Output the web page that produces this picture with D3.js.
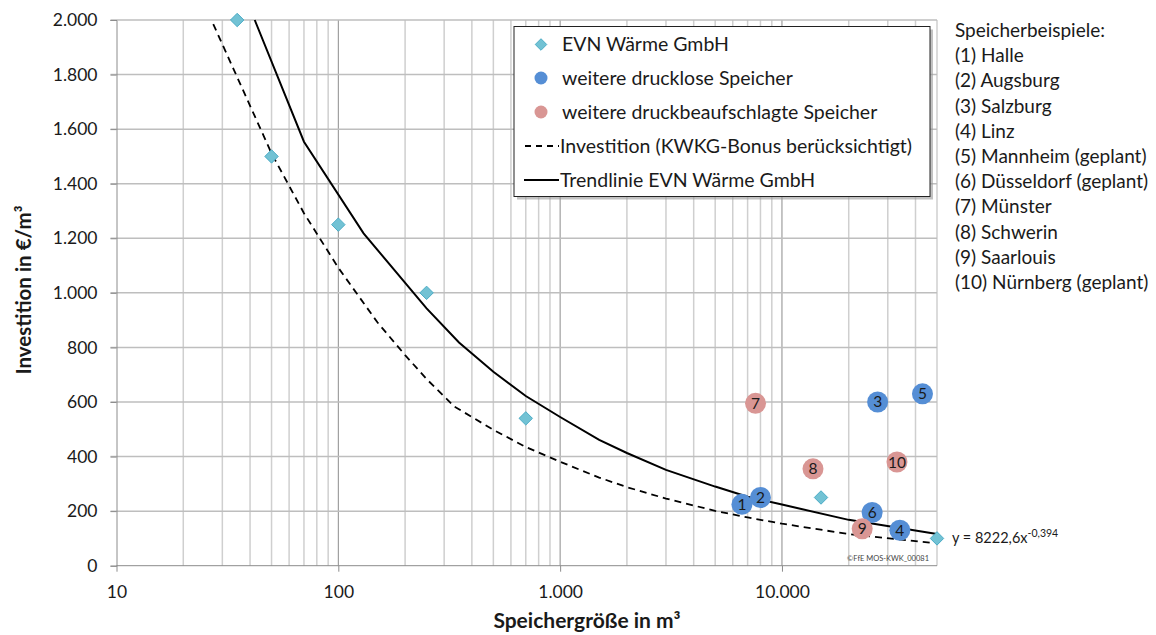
<!DOCTYPE html>
<html><head><meta charset="utf-8">
<script src="https://cdn.jsdelivr.net/npm/d3@7"></script>
<style>
html,body{margin:0;padding:0;background:#fff;}
svg{display:block;font-family:Lato,"Open Sans",sans-serif;}
</style></head>
<body><svg id="chart" width="1156" height="635"></svg>
<script>
// ---------- data ----------
const evnX = [35, 50, 100, 250, 700, 15000, 50000];
const evnY = [2000, 1500, 1250, 1000, 540, 250, 100];

const druckloseIds = [1, 2, 3, 4, 5, 6];
const druckloseX = [6600, 8000, 27000, 34000, 43000, 25500];
const druckloseY = [225, 250, 600, 130, 630, 195];

const druckIds = [7, 8, 9, 10];
const druckX = [7600, 13800, 23000, 33000];
const druckY = [595, 355, 135, 380];

const trendX = [42, 70, 130, 250, 350, 500, 700, 1000, 1500, 2000, 3000, 5000, 7000, 10000, 20000, 50000];
const trendY = [2000, 1554, 1218, 943, 818, 711, 622, 545, 461, 413, 351, 290, 253, 224, 168, 116];

const bonusX = [27.3, 50, 70, 100, 150, 200, 250, 334, 500, 700, 1000, 1500, 2000, 3000, 5000, 7000, 10000, 20000, 48000];
const bonusY = [1985, 1511, 1292, 1092, 892, 772, 684, 583, 498, 435, 381, 323, 288, 246, 201, 177, 154, 116, 83];

const xTickValues = [10, 100, 1000, 10000];
const xTickLabels = ["10", "100", "1.000", "10.000"];
const yTickValues = [0, 200, 400, 600, 800, 1000, 1200, 1400, 1600, 1800, 2000];
const yTickLabels = ["0", "200", "400", "600", "800", "1.000", "1.200", "1.400", "1.600", "1.800", "2.000"];

const legendLabels = ["EVN Wärme GmbH", "weitere drucklose Speicher", "weitere druckbeaufschlagte Speicher",
  "Investition (KWKG-Bonus berücksichtigt)", "Trendlinie EVN Wärme GmbH"];
const exampleLines = ["Speicherbeispiele:", "(1) Halle", "(2) Augsburg", "(3) Salzburg", "(4) Linz",
  "(5) Mannheim (geplant)", "(6) Düsseldorf (geplant)", "(7) Münster", "(8) Schwerin", "(9) Saarlouis",
  "(10) Nürnberg (geplant)"];
const xTitle = "Speichergröße in m³";
const yTitle = "Investition in €/m³";
const equationBase = "y = 8222,6x";
const equationExp = "-0,394";
const copyright = "©FfE MOS-KWK_00081";

// ---------- colours ----------
const cDiamond = "#72C2D4", cDiamondStroke = "#4BACC6";
const cBlue = "#558ED5", cPink = "#D99694";

// ---------- layout ----------
const svg = d3.select("#chart");
const L = 116.5, R = 937, T = 20, B = 565.7;
const x = d3.scaleLog().domain([10, 50000]).range([L, R]);
const y = d3.scaleLinear().domain([0, 2000]).range([B, T]);

svg.append("defs").append("clipPath").attr("id", "plotclip")
  .append("rect").attr("x", L).attr("y", T - 1).attr("width", R - L + 1).attr("height", B - T + 2);

// minor vertical gridlines
const minor = [];
for (let e = 1; e <= 4; e++) for (let m = 2; m <= 9; m++) { const v = m * Math.pow(10, e); if (v <= 50000) minor.push(v); }
svg.append("g").selectAll("line").data(minor).join("line")
  .attr("x1", d => x(d)).attr("x2", d => x(d)).attr("y1", T).attr("y2", B)
  .attr("stroke", "#CFCFCF").attr("stroke-width", 1.5);
// major vertical gridlines
svg.append("g").selectAll("line").data(xTickValues.slice(1)).join("line")
  .attr("x1", d => x(d)).attr("x2", d => x(d)).attr("y1", T).attr("y2", B)
  .attr("stroke", "#8C8C8C").attr("stroke-width", 1);
// horizontal gridlines
svg.append("g").selectAll("line").data(yTickValues.slice(1)).join("line")
  .attr("x1", L - 6).attr("x2", R).attr("y1", d => y(d)).attr("y2", d => y(d))
  .attr("stroke", "#BEBEBE").attr("stroke-width", 1.5);

// axes
const yAxis = d3.axisLeft(y).tickValues(yTickValues).tickFormat((d, i) => yTickLabels[i]).tickSize(6).tickPadding(13);
const gy = svg.append("g").attr("transform", `translate(${L},0)`).call(yAxis);
gy.select(".domain").attr("stroke", "#8C8C8C");
gy.selectAll(".tick line").attr("stroke", "#8C8C8C");
gy.selectAll(".tick text").attr("font-size", 17.5).attr("font-family", "Lato").attr("fill", "#1a1a1a");

const xAxis = d3.axisBottom(x).tickValues(xTickValues).tickFormat((d, i) => xTickLabels[i]).tickSize(6).tickPadding(14).tickSizeOuter(0);
const gx = svg.append("g").attr("transform", `translate(0,${B})`).call(xAxis);
gx.select(".domain").attr("stroke", "#8C8C8C").attr("d", `M${L},0H${R}`);
gx.selectAll(".tick line").attr("stroke", "#8C8C8C");
gx.selectAll(".tick text").attr("font-size", 17.5).attr("font-family", "Lato").attr("fill", "#1a1a1a");

// axis titles
svg.append("text").attr("x", 587).attr("y", 628).attr("text-anchor", "middle")
  .attr("font-size", 21).attr("font-weight", "bold").attr("fill", "#1a1a1a").text(xTitle);
svg.append("text").attr("transform", `translate(31,290) rotate(-90)`).attr("text-anchor", "middle")
  .attr("font-size", 20.5).attr("font-weight", "bold").attr("fill", "#1a1a1a").text(yTitle);

const plot = svg.append("g").attr("clip-path", "url(#plotclip)");

// markers
const diamond = d3.symbol().type(d3.symbolDiamond2).size(115);
const evn = evnX.map((v, i) => ({ x: v, y: evnY[i] }));
const drucklose = druckloseX.map((v, i) => ({ x: v, y: druckloseY[i], id: druckloseIds[i] }));
const druck = druckX.map((v, i) => ({ x: v, y: druckY[i], id: druckIds[i] }));

svg.append("g").selectAll("circle").data(drucklose).join("circle")
  .attr("cx", d => x(d.x)).attr("cy", d => y(d.y)).attr("r", 10.5).attr("fill", cBlue);
svg.append("g").selectAll("circle").data(druck).join("circle")
  .attr("cx", d => x(d.x)).attr("cy", d => y(d.y)).attr("r", 10.5).attr("fill", cPink);
svg.append("g").selectAll("path").data(evn).join("path")
  .attr("transform", d => `translate(${x(d.x)},${y(d.y)})`).attr("d", diamond)
  .attr("fill", cDiamond).attr("stroke", cDiamondStroke).attr("stroke-width", 1);

// lines
const line = d3.line().x(d => x(d[0])).y(d => y(d[1]));
plot.append("path").datum(bonusX.map((v, i) => [v, bonusY[i]])).attr("d", line)
  .attr("fill", "none").attr("stroke", "#000").attr("stroke-width", 1.8).attr("stroke-dasharray", "7,5");
plot.append("path").datum(trendX.map((v, i) => [v, trendY[i]])).attr("d", line)
  .attr("fill", "none").attr("stroke", "#000").attr("stroke-width", 2);

// point labels
svg.append("g").selectAll("text").data(drucklose.concat(druck)).join("text")
  .attr("x", d => x(d.x)).attr("y", d => y(d.y) + 5.5).attr("text-anchor", "middle")
  .attr("font-size", 15.5).attr("fill", "#1a1a1a").text(d => d.id);

// equation
const eq = svg.append("text").attr("x", x(50000) + 15).attr("y", y(100) + 5).attr("font-size", 14.5).attr("fill", "#1a1a1a");
eq.append("tspan").text(equationBase);
eq.append("tspan").attr("dy", -6).attr("font-size", 10.5).text(equationExp);

// copyright
svg.append("text").attr("x", x(50000) - 8).attr("y", 561).attr("text-anchor", "end")
  .attr("font-size", 7.5).attr("fill", "#444").text(copyright);

// legend
const lg = svg.append("g");
const bx = 514, by = 26.5, bw = 416, bh = 170;
lg.append("rect").attr("x", bx + 3).attr("y", by + 3).attr("width", bw).attr("height", bh).attr("fill", "#9a9a9a").attr("opacity", 0.6);
lg.append("rect").attr("x", bx).attr("y", by).attr("width", bw).attr("height", bh).attr("fill", "#fff").attr("stroke", "#222").attr("stroke-width", 1);
const ly = [44.5, 78, 112, 146, 180];
lg.append("path").attr("transform", `translate(541,${ly[0]})`).attr("d", d3.symbol().type(d3.symbolDiamond2).size(85)).attr("fill", cDiamond).attr("stroke", cDiamondStroke);
lg.append("circle").attr("cx", 541).attr("cy", ly[1]).attr("r", 6.5).attr("fill", cBlue);
lg.append("circle").attr("cx", 541).attr("cy", ly[2]).attr("r", 6.5).attr("fill", cPink);
lg.append("line").attr("x1", 525).attr("x2", 559).attr("y1", ly[3]).attr("y2", ly[3]).attr("stroke", "#000").attr("stroke-width", 1.8).attr("stroke-dasharray", "6,5");
lg.append("line").attr("x1", 524).attr("x2", 559).attr("y1", ly[4]).attr("y2", ly[4]).attr("stroke", "#000").attr("stroke-width", 1.8);
lg.selectAll("text.lt").data(legendLabels).join("text").attr("class", "lt")
  .attr("x", (d, i) => i < 3 ? 562 : 560).attr("y", (d, i) => ly[i] + 6.5).attr("font-size", 19.5).attr("fill", "#1a1a1a").text(d => d);

// examples list
svg.append("g").selectAll("text").data(exampleLines).join("text")
  .attr("x", 955).attr("y", (d, i) => 37 + i * 25.2).attr("font-size", 19).attr("fill", "#1a1a1a").text(d => d);
</script></body></html>
